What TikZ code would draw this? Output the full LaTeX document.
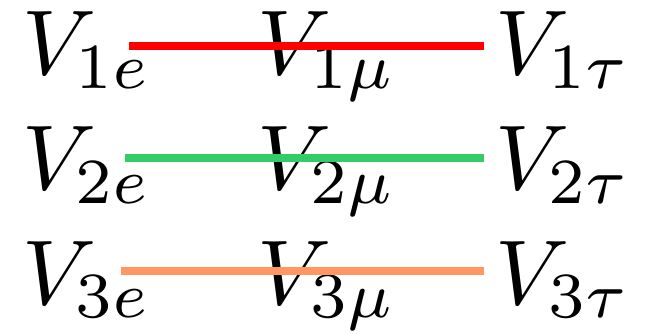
\documentclass[tikz,border=0pt]{standalone}
\usepackage{graphicx}
\definecolor{rowred}{RGB}{255,0,0}
\definecolor{rowgreen}{RGB}{51,204,102}
\definecolor{roworange}{RGB}{255,150,100}
\newcommand{\bigent}[1]{\scalebox{9.2}{$#1$}}
\begin{document}
\begin{tikzpicture}[x=1pt,y=-1pt,
  entry/.style={anchor=base west,inner sep=0pt},
  rowline/.style={line width=8pt}]
\useasboundingbox (0,0) rectangle (647,334);
\node[entry] (v1e) at (22,75) {\bigent{V_{1e}}};
\node[entry] (v1m) at (257,75) {\bigent{V_{1\mu}}};
\node[entry] (v1t) at (495,75) {\bigent{V_{1\tau}}};
\node[entry] (v2e) at (22,189.5) {\bigent{V_{2e}}};
\node[entry] (v2m) at (257,189.5) {\bigent{V_{2\mu}}};
\node[entry] (v2t) at (495,189.5) {\bigent{V_{2\tau}}};
\node[entry] (v3e) at (22,304) {\bigent{V_{3e}}};
\node[entry] (v3m) at (257,304) {\bigent{V_{3\mu}}};
\node[entry] (v3t) at (495,304) {\bigent{V_{3\tau}}};
\coordinate (r1a) at (129,46);
\coordinate (r1b) at (484,46);
\coordinate (r2a) at (125,158);
\coordinate (r2b) at (484,158);
\coordinate (r3a) at (121,271);
\coordinate (r3b) at (484,271);
\draw[rowline,rowred] (r1a) -- (r1b);
\draw[rowline,rowgreen] (r2a) -- (r2b);
\draw[rowline,roworange] (r3a) -- (r3b);
\end{tikzpicture}
\end{document}
